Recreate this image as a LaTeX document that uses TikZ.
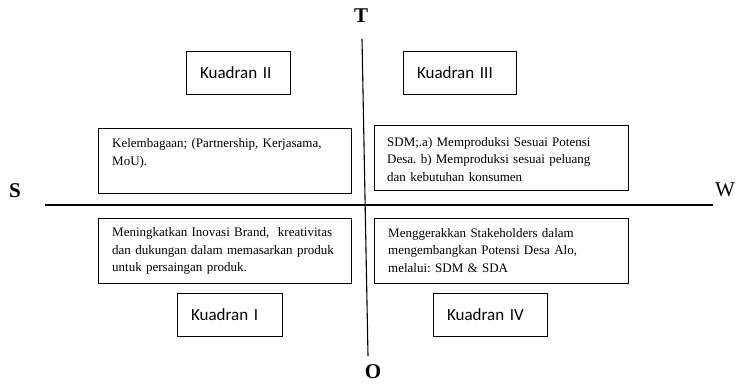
\documentclass[tikz,border=0pt]{standalone}
\usepackage{fontspec}
\setmainfont{Liberation Serif}
\newfontfamily\labelfont{Carlito}
\usetikzlibrary{calc}
\frenchspacing
\tikzset{
  axis/.style={line width=1.1pt, black},
  pole/.style={font=\fontsize{21}{24}\selectfont\bfseries, inner sep=0pt},
  polereg/.style={font=\fontsize{21}{24}\selectfont, inner sep=0pt},
  qbox/.style={draw, line width=1.1pt, minimum height=43pt, inner xsep=13.5pt,
    inner ysep=0pt, align=left, anchor=north west,
    font=\labelfont\fontsize{17}{20}\selectfont},
  tbox/.style={draw, line width=1.1pt, inner sep=0pt, anchor=north west},
  btext/.style={inner sep=0pt, anchor=base west, text width=245pt, align=left,
    font=\fontsize{13}{17.6}\selectfont}
}
\begin{document}
\begin{tikzpicture}[x=1pt,y=-1pt]
\useasboundingbox (0,0) rectangle (738,384);

% axes
\coordinate (vtop) at (362,39);
\coordinate (vbot) at (368,356);
\coordinate (hleft) at (45,205);
\coordinate (hright) at (713,205);
\draw[axis] (vtop) -- (vbot);
\draw[axis] (hleft) -- (hright);

% pole labels
\node[pole] (T) at (361,16) {T};
\node[pole] (O) at (373,372) {O};
\node[pole] (S) at (15,191) {S};
\node[polereg] (W) at (725,190) {W};

% quadrant titles
\node[qbox, text width=77pt] (q2) at (186,51) {Kuadran II};
\node[qbox, text width=86pt] (q3) at (403,51) {Kuadran III};
\node[qbox, text width=78pt] (q1) at (177,293) {Kuadran I};
\node[qbox, text width=87pt] (q4) at (433,293) {Kuadran IV};

% strategy boxes
\node[tbox, minimum width=253pt, minimum height=65pt] (b2) at (98,128) {};
\node[btext] (t2) at ($(b2.north west)+(14,19.5)$)
  {Kelembagaan; (Partnership, Kerjasama,\\MoU).};

\node[tbox, minimum width=254pt, minimum height=65pt] (b3) at (374,125) {};
\node[btext] (t3) at ($(b3.north west)+(13,21)$)
  {SDM;.a) Memproduksi Sesuai Potensi\\Desa. b) Memproduksi sesuai peluang\\dan kebutuhan konsumen};

\node[tbox, minimum width=253pt, minimum height=65pt] (b1) at (98,218) {};
\node[btext] (t1) at ($(b1.north west)+(14,18.5)$)
  {Meningkatkan Inovasi Brand,\ \ kreativitas\\dan dukungan dalam memasarkan produk\\untuk persaingan produk.};

\node[tbox, minimum width=254pt, minimum height=65pt] (b4) at (374,218) {};
\node[btext] (t4) at ($(b4.north west)+(14,19)$)
  {Menggerakkan Stakeholders dalam\\mengembangkan Potensi Desa Alo,\\melalui: SDM \& SDA};
\end{tikzpicture}
\end{document}
